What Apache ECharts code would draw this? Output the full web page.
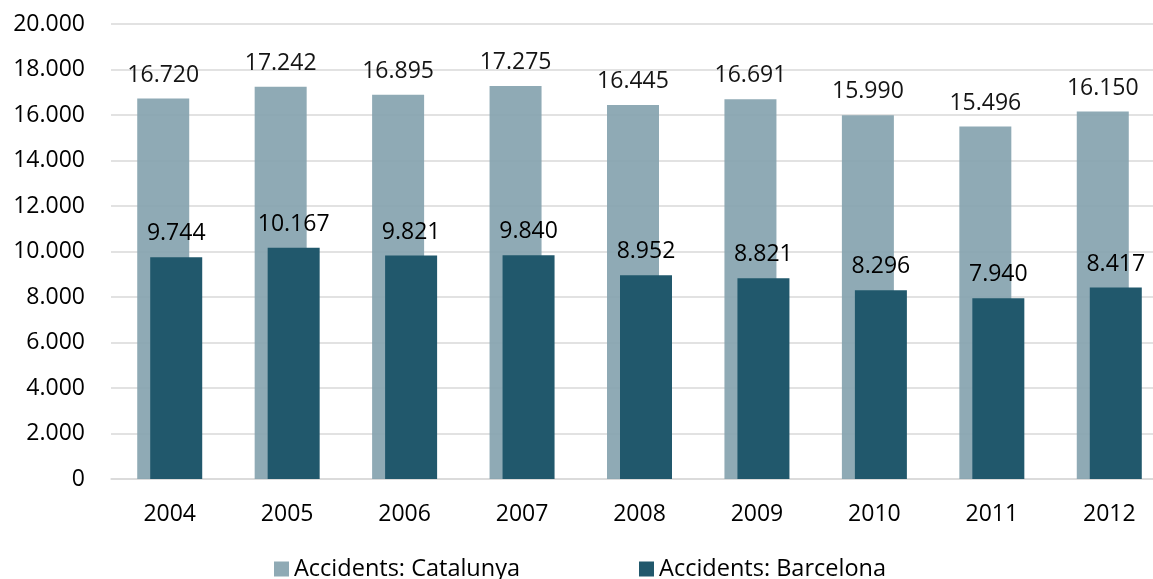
<!DOCTYPE html>
<html><head><meta charset="utf-8">
<script src="https://cdn.jsdelivr.net/npm/echarts@6/dist/echarts.min.js"></script>
<style>html,body{margin:0;padding:0;background:#fff}#c{width:1153px;height:579px}</style>
</head><body><div id="c"></div>
<script>
const categories = ['2004','2005','2006','2007','2008','2009','2010','2011','2012'];
const catalunya = [16720,17242,16895,17275,16445,16691,15990,15496,16150];
const barcelona = [9744,10167,9821,9840,8952,8821,8296,7940,8417];
const seriesNames = ['Accidents: Catalunya','Accidents: Barcelona'];

function fmt(v){ return String(v).replace(/\B(?=(\d{3})+(?!\d))/g,'.'); }
const FONT = 'Open Sans';
const chart = echarts.init(document.getElementById('c'));
chart.setOption({
  animation:false,
  textStyle:{fontFamily:FONT},
  grid:{left:111,width:1057,top:24,height:455,containLabel:false,outerBoundsMode:'none'},
  legend:{
    top:552, left:269, itemWidth:15, itemHeight:15, itemGap:119, icon:'rect',
    textStyle:{fontFamily:FONT,fontSize:23.5,color:'#000'},
    data:seriesNames
  },
  xAxis:{
    type:'category', data:categories,
    axisLine:{lineStyle:{color:'#d9d9d9',width:1.5}},
    axisTick:{show:false},
    axisLabel:{fontFamily:FONT,fontSize:23,color:'#000',margin:24}
  },
  yAxis:{
    type:'value', min:0, max:20000, interval:2000,
    axisLine:{show:false}, axisTick:{show:false},
    splitLine:{lineStyle:{color:'#d9d9d9',width:1.5}},
    axisLabel:{fontFamily:FONT,fontSize:23,color:'#000',margin:26,formatter:fmt}
  },
  series:[
    {name:seriesNames[0], type:'bar', data:catalunya, barWidth:52, barGap:'-75%',
     itemStyle:{color:'rgb(133,163,175)',opacity:0.92},
     label:{show:true,position:'top',distance:12,fontFamily:FONT,fontSize:23,color:'#000',formatter:p=>fmt(p.value)}},
    {name:seriesNames[1], type:'bar', data:barcelona, barWidth:52, barGap:'-75%',
     itemStyle:{color:'rgb(33,88,108)'},
     label:{show:true,position:'top',distance:12,fontFamily:FONT,fontSize:23,color:'#000',formatter:p=>fmt(p.value)}}
  ]
});
</script></body></html>
